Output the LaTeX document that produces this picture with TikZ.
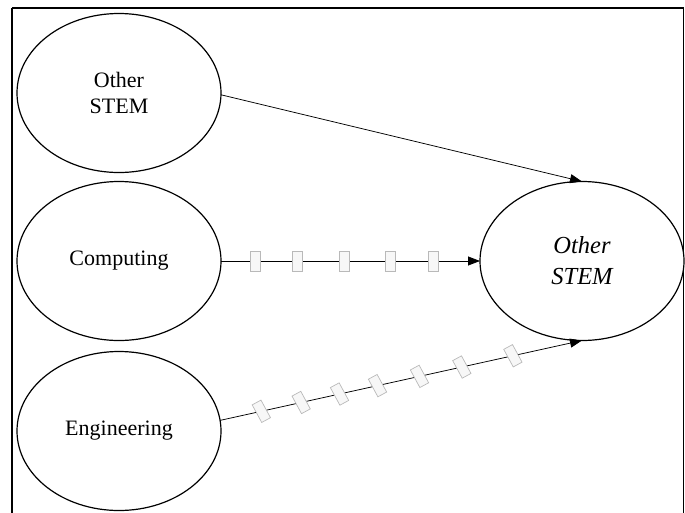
\documentclass[tikz,border=0pt]{standalone}
\usepackage{fontspec}
\setmainfont{Liberation Serif}
\usetikzlibrary{shapes.geometric,arrows.meta}

\tikzset{
  factor/.style={ellipse, draw, line width=1.2pt, fill=white, inner sep=0pt, outer sep=0pt,
    minimum width=204pt, minimum height=159pt, align=center,
    font=\fontsize{22}{26}\selectfont},
  target/.style={factor, font=\fontsize{24.5}{31}\selectfont\itshape},
  path/.style={line width=0.75pt, -{Triangle[length=12pt,width=9pt]}},
  tickbox/.style={rectangle, draw=gray!55, fill=gray!6, line width=0.7pt,
    minimum width=10pt, minimum height=20pt, inner sep=0pt, sloped},
}

\begin{document}
\begin{tikzpicture}[x=1pt, y=-1pt]
  \useasboundingbox (0,0) rectangle (685,512);
  \clip (0,0) rectangle (685,512);

  % outer frame, open at the bottom edge of the page
  \draw[line width=1.8pt] (12,8) -- (683.5,8) -- (683.5,530);
  \draw[line width=1.8pt] (12,8) -- (12,530);

  % predictor factors
  \node[factor] (e1) at (119,93)  {Other\\STEM};
  \node[factor] (e2) at (119,261) {Computing};
  \node[factor] (e3) at (119,431) {Engineering};

  % outcome factor
  \node[target] (t) at (582,261) {Other\\STEM};

  % direct path
  \draw[path] (e1.-1) -- (t.north);

  % paths with interval markers
  \draw[path] (e2.east) -- (t.west)
    node[tickbox, pos=0.131] (m1) {}
    node[tickbox, pos=0.296] (m2) {}
    node[tickbox, pos=0.477] (m3) {}
    node[tickbox, pos=0.654] (m4) {}
    node[tickbox, pos=0.819] (m5) {};

  \draw[path] (e3.6) -- (t.south)
    node[tickbox, rotate=16, pos=0.114] (n1) {}
    node[tickbox, rotate=16, pos=0.224] (n2) {}
    node[tickbox, rotate=16, pos=0.330] (n3) {}
    node[tickbox, rotate=16, pos=0.435] (n4) {}
    node[tickbox, rotate=16, pos=0.551] (n5) {}
    node[tickbox, rotate=16, pos=0.668] (n6) {}
    node[tickbox, rotate=16, pos=0.809] (n7) {};
\end{tikzpicture}
\end{document}
